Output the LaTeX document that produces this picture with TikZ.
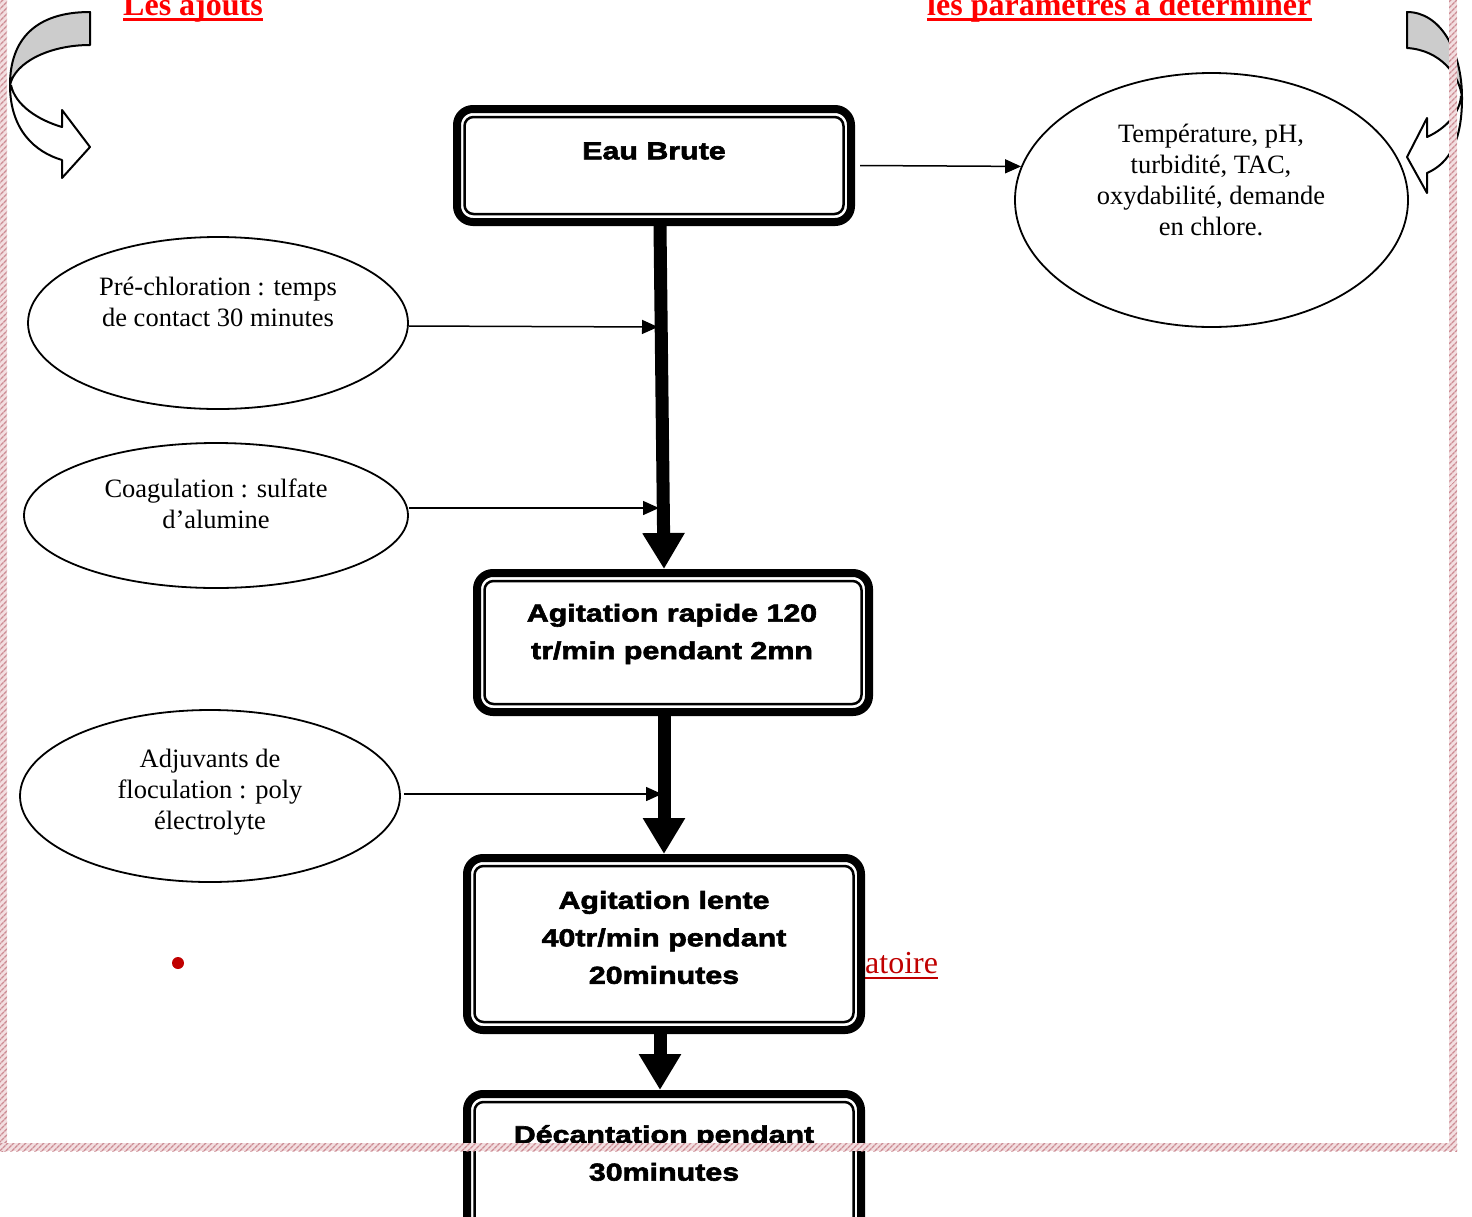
\documentclass[tikz,border=0pt]{standalone}
\usepackage{fontspec}
\setmainfont{Liberation Serif}
\newfontfamily\boxfont{Liberation Sans}[FakeStretch=1.24, FakeBold=2.5]
\usetikzlibrary{arrows.meta,shapes.geometric,patterns.meta,calc}
\definecolor{hdrred}{RGB}{255,0,0}
\definecolor{darkred}{RGB}{192,0,0}
\definecolor{arrowgray}{RGB}{204,204,204}
\definecolor{hatchbg}{RGB}{242,222,224}
\definecolor{hatchfg}{RGB}{205,140,148}
\tikzset{
  flowbox/.style={draw, line width=8pt, rounded corners=16pt, fill=white, inner sep=0pt, outer sep=4pt, minimum width=394pt,
    path picture={\draw[line width=2.5pt, rounded corners=9pt] ([shift={(7.5pt,-8pt)}]path picture bounding box.north west) rectangle ([shift={(-7.5pt,8pt)}]path picture bounding box.south east);}},
  boxtext/.style={font=\boxfont\bfseries\fontsize{24.5}{37.5}\selectfont, align=center, inner sep=0pt},
  bubble/.style={draw, ellipse, line width=1.8pt, inner sep=0pt},
  bubtext/.style={font=\fontsize{26.5}{31}\selectfont, align=center, inner sep=0pt},
  thinarrow/.style={line width=1.5pt, -{Triangle[length=16pt,width=14pt]}},
  bigarrow/.style={line width=13pt, -{Triangle[length=36pt,width=40pt]}},
  hdr/.style={font=\bfseries\fontsize{32}{36}\selectfont, text=hdrred, inner sep=0pt, anchor=base west},
  curvedarrow/.style={line width=2pt, line join=round},
  hatchband/.style={fill=hatchbg, postaction={pattern={Lines[angle=45,distance=4pt,line width=1.6pt]}, pattern color=hatchfg}},
}
\begin{document}
\begin{tikzpicture}[x=1pt,y=-1pt]
\useasboundingbox (0,0) rectangle (1472,1216);
\fill[white] (0,0) rectangle (1472,1216);

% headers
\node[hdr] (h1) at (123,15) {Les ajouts};
\node[hdr] (h2) at (927,15) {les paramètres à déterminer};
\draw[hdrred, line width=3pt] ([yshift=-4.5pt]h1.base west) -- ([yshift=-4.5pt]h1.base east);
\draw[hdrred, line width=3pt] ([yshift=-4.5pt]h2.base west) -- ([yshift=-4.5pt]h2.base east);

% curved arrow, top left
\draw[curvedarrow, fill=white] (10,85) .. controls (10,130) and (35,152) .. (62,160) -- (62,178) -- (90,147) -- (62,110) -- (62,127) .. controls (38,120) and (15,105) .. (11,85);
\draw[curvedarrow, fill=arrowgray] (90,12) .. controls (35,12) and (10,40) .. (10,85) .. controls (15,62) and (50,45) .. (90,45) -- cycle;

% curved arrow, top right
\draw[curvedarrow, fill=white] (1462,98) .. controls (1462,140) and (1450,163) .. (1427,173) -- (1427,193) -- (1407,157) -- (1427,118) -- (1427,137) .. controls (1447,128) and (1460,112) .. (1461,96);
\draw[curvedarrow, fill=arrowgray] (1407,12) .. controls (1440,12) and (1462,50) .. (1462,98) .. controls (1460,75) and (1440,50) .. (1407,48) -- cycle;

% ellipses
\node[bubble, minimum width=380pt, minimum height=172pt] (e1) at (218,323) {};
\node[bubtext] (e1t) at (218,301.5) {Pré-chloration : temps\\de contact 30 minutes};
\node[bubble, minimum width=384pt, minimum height=145pt] (e2) at (216,515.5) {};
\node[bubtext] (e2t) at (216,503.5) {Coagulation : sulfate\\d’alumine};
\node[bubble, minimum width=380pt, minimum height=172pt] (e3) at (210,796) {};
\node[bubtext] (e3t) at (210,792) {Adjuvants de\\floculation : poly\\électrolyte};
\node[bubble, minimum width=393pt, minimum height=254pt] (er) at (1211.5,200) {};
\node[bubtext] (ert) at (1211,180) {Température, pH,\\turbidité, TAC,\\oxydabilité, demande\\en chlore.};

% stray red text and bullet
\node[font=\fontsize{32}{36}\selectfont, text=darkred, inner sep=0pt, anchor=base west] (lab) at (865,973) {atoire};
\draw[darkred, line width=2pt] ([yshift=-5pt]lab.base west) -- ([yshift=-5pt]lab.base east);
\fill[darkred] (178,963) circle[radius=6pt];
\coordinate (bul) at (178,963);

% process boxes
\node[flowbox, minimum height=113pt] (eau) at (654,165.5) {};
\node[flowbox, minimum width=392pt, minimum height=139pt] (rap) at (673,642.5) {};
\node[flowbox, minimum height=172pt] (len) at (664,944) {};
\node[flowbox, minimum height=160pt] (dec) at (664,1174) {};

\node[boxtext] (eaut) at (654,151) {Eau Brute};
\node[boxtext] (rapt) at (672,634) {Agitation rapide 120\\tr/min pendant 2mn};
\node[boxtext] (lent) at (664,937.5) {Agitation lente\\40tr/min pendant\\20minutes};
\node[boxtext] (dect) at (664,1153) {Décantation pendant\\30minutes};

% main flow arrows
\draw[bigarrow] ([xshift=6pt]eau.south) -- ([xshift=-9pt]rap.north);
\draw[bigarrow] ([xshift=-9pt]rap.south) -- (len.north);
\draw[bigarrow] ([xshift=-4pt]len.south) -- ([xshift=-4pt]dec.north);

% side arrows
\coordinate (j1) at (658,327);
\coordinate (j2) at (659,508);
\coordinate (j3) at (662,794);
\draw[thinarrow] ([yshift=-3pt]e1.east) -- (j1);
\draw[thinarrow] (e2.east |- j2) -- (j2);
\draw[thinarrow] ([xshift=3pt]e3.east |- j3) -- (j3);
\draw[thinarrow] ([xshift=5pt]eau.east) -- (er.170);

% hatched page border
\path[hatchband] (0,0) rectangle (7,1151);
\path[hatchband] (1449,0) rectangle (1457,1151);
\path[hatchband] (0,1143) rectangle (1457,1151);
\end{tikzpicture}
\end{document}
